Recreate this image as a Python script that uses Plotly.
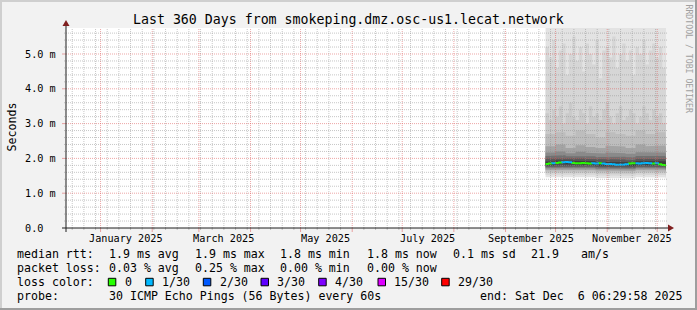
import plotly.graph_objects as go
import pandas as pd

# ---------------- data ----------------
START = pd.Timestamp("2024-12-11 06:29:58")
END = pd.Timestamp("2025-12-06 06:29:58")
Y_MAX = 5.747  # ms

fine_dates = list(pd.date_range("2025-09-25", periods=37, freq="2D"))
coarse_dates = list(pd.date_range("2025-09-25", periods=13, freq="6D"))

median_ms = [1.84, 1.85, 1.86, 1.87, 1.88, 1.89, 1.90, 1.89, 1.87, 1.86, 1.86, 1.87, 1.86,
             1.85, 1.86, 1.85, 1.86, 1.85, 1.84, 1.84, 1.83, 1.82, 1.82, 1.82, 1.83, 1.85,
             1.86, 1.86, 1.85, 1.86, 1.87, 1.86, 1.85, 1.86, 1.83, 1.81, 1.80]
loss_idx = [0, 0, 1, 0, 0, 1, 1, 1, 0, 0, 0, 0, 0, 0, 1, 1, 0, 1, 1, 1, 1, 1, 1, 1, 1,
            0, 0, 1, 1, 1, 1, 1, 0, 1, 0, 0, 0]

# sorted ping ranks (ms)
p30 = [6.4, 6.1, 6.8, 6.2, 6.5, 6.0, 6.6, 6.3, 6.9, 6.1, 6.4, 6.2, 6.5]
p29 = [5.2, 4.9, 5.4, 4.6, 5.1, 5.3, 4.4, 5.0, 5.5, 4.8, 5.2, 4.5, 5.3, 5.0, 4.7, 5.4, 4.3,
       5.1, 5.2, 4.9, 5.5, 4.6, 5.0, 5.3, 4.8, 5.1, 4.4, 5.2, 5.0, 5.4, 4.7, 5.1, 5.3, 4.9,
       5.2, 4.6, 5.0]
p28 = [3.3, 3.1, 3.4, 3.2, 3.5, 3.0, 3.3, 3.6, 3.2, 3.1, 3.4, 3.3, 3.0, 3.5, 3.2, 3.3, 3.1,
       3.4, 3.6, 3.2, 3.0, 3.3, 3.5, 3.1, 3.2, 3.4, 3.3, 3.0, 3.2, 3.5, 3.3, 3.1, 3.4, 3.2,
       3.3, 3.0, 3.2]
p27 = [2.70, 2.75, 2.65, 2.80, 2.70, 2.60, 2.75, 2.70, 2.65, 2.80, 2.70, 2.75, 2.65]
p25 = [2.35, 2.40, 2.30, 2.38, 2.33, 2.30, 2.36, 2.34, 2.30, 2.40, 2.35, 2.37, 2.32]
p23 = [2.17, 2.20, 2.15, 2.19, 2.16, 2.14, 2.17, 2.15, 2.13, 2.18, 2.16, 2.17, 2.14]
p21 = [2.07, 2.09, 2.06, 2.08, 2.06, 2.04, 2.06, 2.05, 2.03, 2.07, 2.06, 2.07, 2.03]
p19 = [1.99, 2.01, 1.99, 2.00, 1.98, 1.96, 1.98, 1.97, 1.95, 1.99, 1.98, 1.98, 1.95]
p17 = [1.91, 1.94, 1.93, 1.93, 1.92, 1.90, 1.91, 1.90, 1.89, 1.92, 1.92, 1.92, 1.88]
p14 = [1.80, 1.83, 1.82, 1.82, 1.81, 1.79, 1.80, 1.79, 1.78, 1.81, 1.81, 1.80, 1.77]
p12 = [1.77, 1.79, 1.78, 1.78, 1.77, 1.75, 1.76, 1.75, 1.74, 1.77, 1.77, 1.76, 1.73]
p10 = [1.74, 1.76, 1.75, 1.75, 1.74, 1.72, 1.73, 1.72, 1.71, 1.74, 1.74, 1.73, 1.70]
p8 = [1.71, 1.73, 1.72, 1.72, 1.71, 1.69, 1.70, 1.69, 1.68, 1.71, 1.71, 1.70, 1.67]
p6 = [1.67, 1.69, 1.68, 1.68, 1.67, 1.65, 1.66, 1.65, 1.64, 1.67, 1.67, 1.66, 1.63]
p4 = [1.62, 1.64, 1.63, 1.63, 1.62, 1.60, 1.61, 1.60, 1.59, 1.62, 1.62, 1.61, 1.58]
p3 = [1.58, 1.60, 1.59, 1.59, 1.58, 1.56, 1.57, 1.56, 1.55, 1.58, 1.58, 1.57, 1.54]
p2 = [1.53, 1.55, 1.54, 1.54, 1.53, 1.51, 1.52, 1.51, 1.50, 1.53, 1.53, 1.52, 1.49]
p1 = [1.46, 1.48, 1.47, 1.47, 1.46, 1.44, 1.45, 1.44, 1.43, 1.46, 1.46, 1.45, 1.42]

month_label_text = ["January 2025", "March 2025", "May 2025", "July 2025",
                    "September 2025", "November 2025"]
month_label_dates = ["2025-01-16", "2025-03-16", "2025-05-16", "2025-07-16",
                     "2025-09-16", "2025-11-16"]
y_tick_vals = [0, 1, 2, 3, 4, 5]
y_tick_text = ["0.0\u00a0\u00a0", "1.0 m", "2.0 m", "3.0 m", "4.0 m", "5.0 m"]

loss_labels = ["0", "1/30", "2/30", "3/30", "4/30", "15/30", "29/30"]
loss_colors = ["#26ff00", "#00b8ff", "#0059ff", "#5e00ff", "#7e00ff", "#dd00ff", "#ff0000"]

title_text = "Last 360 Days from smokeping.dmz.osc-us1.lecat.network"

# ---------------- layout helpers ----------------
W, H = 697, 310
L, T, PW, PH = 66, 28, 600, 200


def px(x):
    return (x - L) / PW


def py(y):
    return (T + PH - y) / PH


MONO = "DejaVu Sans Mono"
fig = go.Figure()


def step_xy(dates, vals):
    return dates + [END], vals + [vals[-1]]


def expand(xs, ys):
    ox, oy = [], []
    for i in range(len(xs)):
        if i > 0:
            ox.append(xs[i]); oy.append(ys[i - 1])
        ox.append(xs[i]); oy.append(ys[i])
    return ox, oy


# smoke bands: (lower, lower dates, upper, upper dates, color)
bands = [
    (p1, coarse_dates, p30, coarse_dates, "#e3e3e3"),
    (p2, coarse_dates, p29, fine_dates, "#d6d6d6"),
    (p3, coarse_dates, p28, fine_dates, "#cacaca"),
    (p4, coarse_dates, p27, coarse_dates, "#bdbdbd"),
    (p6, coarse_dates, p25, coarse_dates, "#a4a4a4"),
    (p8, coarse_dates, p23, coarse_dates, "#8a8a8a"),
    (p10, coarse_dates, p21, coarse_dates, "#717171"),
    (p12, coarse_dates, p19, coarse_dates, "#585858"),
    (p14, coarse_dates, p17, coarse_dates, "#3e3e3e"),
]
for lo, lod, hi, hid, col in bands:
    ux, uy = step_xy(hid, hi)
    lx, ly = step_xy(lod, lo)
    ex, ey = expand(ux, uy)
    fx, fy = expand(lx, ly)
    fig.add_trace(go.Scatter(x=ex + fx[::-1], y=ey + fy[::-1], mode="lines",
                             fill="toself", fillcolor=col, line=dict(width=0),
                             hoverinfo="skip"))

# median line coloured by loss
ext_dates = fine_dates + [END]
for ci in sorted(set(loss_idx)):
    xs, ys = [], []
    for i, m in enumerate(median_ms):
        if loss_idx[i] != ci:
            continue
        prev = median_ms[i - 1] if i > 0 else m
        xs += [ext_dates[i], ext_dates[i], ext_dates[i + 1], None]
        ys += [prev, m, m, None]
    fig.add_trace(go.Scatter(x=xs, y=ys, mode="lines",
                             line=dict(color=loss_colors[ci], width=2),
                             hoverinfo="skip", connectgaps=False))

shapes = []
GRID = "rgba(143,143,143,0.5)"
MGRID = "rgba(222,79,79,0.5)"
DASH = "1px,1px"

months = list(pd.date_range("2025-01-01", "2025-12-01", freq="MS"))
weeks = [d for d in pd.date_range("2024-12-15", "2025-12-05", freq="7D") if d.day != 1]
for d in weeks:
    shapes.append(dict(type="line", xref="x", yref="paper", x0=d, x1=d, y0=0, y1=1,
                       line=dict(color=GRID, width=1, dash=DASH), layer="above"))
    shapes.append(dict(type="line", xref="x", yref="paper", x0=d, x1=d, y0=py(230), y1=py(228),
                       line=dict(color=GRID, width=1), layer="above"))
for d in months:
    shapes.append(dict(type="line", xref="x", yref="paper", x0=d, x1=d, y0=0, y1=1,
                       line=dict(color=MGRID, width=1, dash=DASH), layer="above"))
    shapes.append(dict(type="line", xref="x", yref="paper", x0=d, x1=d, y0=py(232), y1=py(228),
                       line=dict(color=MGRID, width=1), layer="above"))

minor_y = [v / 10 for v in range(2, 57, 2) if v % 10 != 0]
for v in minor_y:
    shapes.append(dict(type="line", xref="paper", yref="y", x0=px(64), x1=px(668), y0=v, y1=v,
                       line=dict(color=GRID, width=1, dash=DASH), layer="above"))
for v in y_tick_vals[1:]:
    shapes.append(dict(type="line", xref="paper", yref="y", x0=px(66), x1=px(668), y0=v, y1=v,
                       line=dict(color=MGRID, width=1, dash=DASH), layer="above"))
    shapes.append(dict(type="line", xref="paper", yref="y", x0=px(62), x1=px(66), y0=v, y1=v,
                       line=dict(color=MGRID, width=1), layer="above"))

AXIS = "#1f1f1f"
ARROW = "#801f1f"
shapes.append(dict(type="line", xref="paper", yref="paper", x0=px(62), x1=px(669),
                   y0=py(228), y1=py(228), line=dict(color=AXIS, width=1), layer="above"))
shapes.append(dict(type="line", xref="paper", yref="paper", x0=px(66), x1=px(66),
                   y0=py(232), y1=py(25), line=dict(color=AXIS, width=1), layer="above"))
shapes.append(dict(type="path", xref="paper", yref="paper",
                   path=f"M {px(668)},{py(224.5)} L {px(674)},{py(228)} L {px(668)},{py(231.5)} Z",
                   fillcolor=ARROW, line=dict(width=0), layer="above"))
shapes.append(dict(type="path", xref="paper", yref="paper",
                   path=f"M {px(62.5)},{py(26)} L {px(66)},{py(20)} L {px(69.5)},{py(26)} Z",
                   fillcolor=ARROW, line=dict(width=0), layer="above"))

# frame
shapes.append(dict(type="rect", xref="paper", yref="paper", x0=px(0), x1=px(W), y0=py(0), y1=py(2),
                   fillcolor="#cfcfcf", line=dict(width=0), layer="above"))
shapes.append(dict(type="rect", xref="paper", yref="paper", x0=px(0), x1=px(2), y0=py(0), y1=py(H),
                   fillcolor="#cfcfcf", line=dict(width=0), layer="above"))
shapes.append(dict(type="rect", xref="paper", yref="paper", x0=px(0), x1=px(W), y0=py(H - 2), y1=py(H),
                   fillcolor="#9e9e9e", line=dict(width=0), layer="above"))
shapes.append(dict(type="rect", xref="paper", yref="paper", x0=px(W - 2), x1=px(W), y0=py(0), y1=py(H),
                   fillcolor="#9e9e9e", line=dict(width=0), layer="above"))

# loss colour swatches
swatch_x = [108.3, 145.7, 203.3, 261.0, 318.7, 378.0, 441.7]
for sx, col in zip(swatch_x, loss_colors):
    shapes.append(dict(type="rect", xref="paper", yref="paper", x0=px(sx), x1=px(sx + 7.5),
                       y0=py(278.3), y1=py(285.8), fillcolor=col,
                       line=dict(color="#000000", width=1), layer="above"))

ann = []
LEG = 11.6


def text(x, y, s, size=LEG, anchor="left", color="#000000", angle=0, xref="paper", yref="paper"):
    ann.append(dict(x=x, y=y, xref=xref, yref=yref, text=s, showarrow=False,
                    xanchor=anchor, yanchor="middle", textangle=angle,
                    font=dict(family=MONO, size=size, color=color)))


text(px(348.5), py(19.5), title_text, size=13.25, anchor="center")
text(px(11), py(127.5), "Seconds", size=11.6, anchor="center", angle=-90)
text(px(688.5), py(59), "RRDTOOL / TOBI OETIKER", size=8.2, anchor="center",
     angle=90, color="#a0a0a0")

for d, s in zip(month_label_dates, month_label_text):
    text(pd.Timestamp(d), py(238), s, size=10.2, anchor="center", xref="x")
for v, s in zip(y_tick_vals, y_tick_text):
    text(px(58), v, s, size=10.2, anchor="right", yref="y")

row1 = [(16, "median rtt:"), (107.3, "1.9 ms avg"), (193.3, "1.9 ms max"),
        (278.7, "1.8 ms min"), (365.7, "1.8 ms now"), (451.7, "0.1 ms sd"),
        (530.0, "21.9"), (579.3, "am/s")]
row2 = [(16, "packet loss:"), (107.3, "0.03 % avg"), (193.3, "0.25 % max"),
        (278.7, "0.00 % min"), (365.7, "0.00 % now")]
row4 = [(16, "probe:"), (107.3, "30 ICMP Echo Pings (56 Bytes) every 60s"),
        (478.3, "end: Sat Dec\u00a0\u00a06 06:29:58 2025")]
for xx, s in row1:
    text(px(xx - 0.7), py(254.3), s)
for xx, s in row2:
    text(px(xx - 0.7), py(267.8), s)
text(px(16 - 0.7), py(282.1), "loss color:")
for sx, s in zip(swatch_x, loss_labels):
    text(px(sx + 15 - 0.7), py(282.1), s)
for xx, s in row4:
    text(px(xx - 0.7), py(295.8), s)

fig.update_layout(
    width=W, height=H, autosize=False,
    margin=dict(l=L, r=W - L - PW, t=T, b=H - T - PH, pad=0),
    paper_bgcolor="#f2f2f2", plot_bgcolor="#ffffff",
    showlegend=False, shapes=shapes, annotations=ann,
    xaxis=dict(type="date", range=[START, END], showgrid=False, zeroline=False,
               showline=False, showticklabels=False, ticks="", fixedrange=True),
    yaxis=dict(range=[0, Y_MAX], showgrid=False, zeroline=False, showline=False,
               showticklabels=False, ticks="", fixedrange=True),
    hovermode=False,
)
fig.write_html("out.html", config={"displayModeBar": False, "staticPlot": True})
